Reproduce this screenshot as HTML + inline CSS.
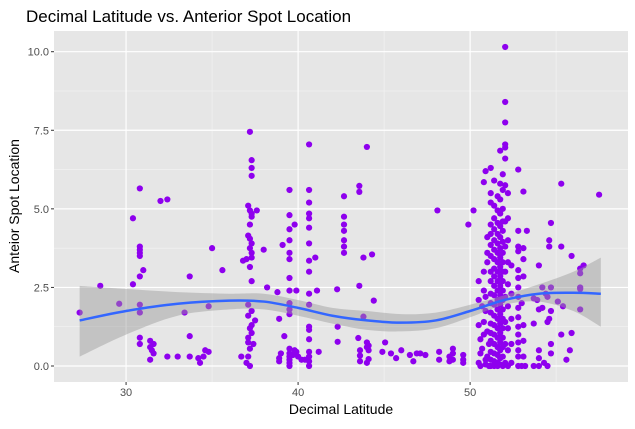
<!DOCTYPE html>
<html><head><meta charset="utf-8"><style>
body{margin:0;background:#fff;font-family:"Liberation Sans",sans-serif}
svg text{font-family:"Liberation Sans",sans-serif}
</style></head><body>
<svg id="c" width="635" height="424" xmlns="http://www.w3.org/2000/svg">
<text x="26" y="22" font-size="17" fill="#000">Decimal Latitude vs. Anterior Spot Location</text>
<rect x="54" y="31" width="574" height="351" fill="#e6e6e6"/>
<g id="grid"></g><g id="pts"></g><g id="axes"></g>
<text x="341" y="414" font-size="14" text-anchor="middle" fill="#000">Decimal Latitude</text>
<text transform="translate(19,206) rotate(-90)" font-size="14" text-anchor="middle" fill="#000">Anteior Spot Location</text>
</svg>
<script>
const xTicks=[30,40,50];
const xMinor=[35,45,55];
const yTicks=[0,2.5,5,7.5,10];
const yMinor=[1.25,3.75,6.25,8.75];
const smoothX=[27.3,30,33,36,38,40,42,44,46,48,50,52,54,56,57.6];
const smoothY=[1.45,1.75,1.98,2.08,2.05,1.85,1.6,1.45,1.38,1.45,1.75,2.1,2.3,2.33,2.3];
const bandLo=[0.3,1.0,1.6,1.8,1.8,1.6,1.35,1.15,1.1,1.2,1.55,1.95,2.05,1.75,1.25];
const bandHi=[2.55,2.45,2.35,2.3,2.3,2.1,1.85,1.75,1.65,1.7,1.95,2.25,2.6,3.0,3.45];
const points=[[27.3,1.7],[28.5,2.55],[29.6,1.98],[30.4,2.6],[30.4,4.7],[30.8,5.65],[30.8,3.8],[30.8,3.7],[30.8,3.6],[30.8,3.5],[30.8,2.85],[31.0,3.05],[30.8,1.95],[30.8,1.7],[30.8,0.9],[30.8,0.7],[31.4,0.8],[31.4,0.6],[31.5,0.5],[31.6,0.4],[31.4,0.2],[31.6,0.7],[32.0,5.25],[32.4,5.3],[32.4,0.3],[33.0,0.3],[33.4,1.7],[33.7,2.85],[33.7,0.95],[33.7,0.3],[34.2,0.25],[34.3,0.1],[34.6,0.5],[34.5,0.3],[34.8,0.45],[34.8,1.9],[35.0,3.75],[35.6,3.05],
[37.2,7.45],[37.3,6.55],[37.3,6.3],[37.3,6.05],[37.1,5.1],[37.2,4.95],[37.3,4.85],[37.3,4.75],[37.2,4.5],[37.1,4.15],[37.2,4.05],[37.3,3.9],[37.2,3.75],[37.3,3.6],[37.3,3.45],[36.8,3.35],[37.0,3.4],[37.2,3.15],[37.3,2.7],[37.1,1.95],[37.3,1.75],[37.1,1.6],[37.5,1.45],[37.3,1.3],[37.2,1.2],[37.3,1.05],[37.1,0.9],[37.1,0.75],[37.4,0.7],[37.2,0.55],[37.1,0.3],[37.0,0.1],[37.2,0.0],[36.7,0.3],[37.6,4.95],[38.0,3.7],[38.2,2.5],[38.8,2.35],
[39.5,5.6],[39.5,4.8],[39.5,4.35],[39.5,4.0],[39.5,3.6],[39.5,3.4],[39.5,2.8],[39.5,2.4],[39.5,2.0],[39.5,1.8],[39.5,1.65],[39.5,0.55],[39.5,0.4],[39.5,0.3],[39.5,0.2],[39.5,0.1],[39.5,0.0],[39.1,3.85],[39.8,4.5],[39.9,2.4],[38.9,1.5],[39.2,0.95],[39.0,0.4],[38.9,0.25],[38.9,0.15],[39.8,0.5],[40.0,0.3],[40.2,0.2],[39.7,0.35],[39.9,0.45],
[40.64,7.05],[40.64,5.6],[40.64,5.2],[40.64,4.85],[40.64,4.7],[40.64,4.4],[40.64,3.9],[40.64,3.35],[40.64,3.0],[40.64,2.3],[40.64,1.95],[40.64,1.25],[40.64,1.15],[40.64,0.85],[40.64,0.45],[40.64,0.3],[40.64,0.15],[40.64,0.0],[41.0,3.45],[41.1,2.4],[40.4,0.2],[41.2,0.45],
[42.67,5.4],[42.67,4.75],[42.67,4.5],[42.67,4.3],[42.67,4.0],[42.67,3.8],[42.67,3.6],[42.27,2.44],[42.3,1.25],[42.3,0.77],[43.56,5.73],[43.56,5.54],[43.56,2.55],[44.0,6.97],[43.8,3.45],[44.3,3.55],[44.4,2.08],[43.8,1.57],[43.5,0.89],[43.6,0.5],[43.6,0.33],[43.6,0.15],[44.0,0.75],[44.0,0.6],[44.1,0.5],[44.1,0.22],[44.0,0.1],[44.1,0.65],[45.06,0.75],[44.9,0.45],[45.4,0.4],[45.7,0.25],[46.0,0.5],[46.5,0.35],[46.7,0.15],[46.9,0.4],[47.1,0.4],[47.4,0.35],[48.1,4.95],[48.2,0.45],[48.2,0.2],[48.8,0.3],[48.8,0.15],[49.0,0.4],[49.0,0.55],[49.0,0.2],[49.6,0.35],[49.6,0.2],[49.6,0.1],[49.9,4.5],[50.2,4.95],
[50.5,2.1],[50.5,2.7],[50.5,1.3],[50.6,0.85],[50.6,0.4],[50.5,0.1],[50.6,0.0],[50.8,5.85],[50.8,3.0],[50.8,2.4],[50.7,1.9],[50.9,1.75],[50.8,1.4],[50.8,1.0],[50.7,0.55],[50.9,0.2],[50.9,0.05],[50.9,6.2],[51.0,4.1],[51.0,3.6],[51.0,3.3],[50.9,2.2],[51.0,1.1],[51.1,0.7],[51.0,0.3],[51.1,0.0],
[51.2,6.3],[51.2,5.5],[51.2,5.2],[51.2,4.5],[51.2,4.2],[51.2,3.85],[51.2,3.5],[51.2,3.0],[51.2,2.7],[51.2,2.3],[51.2,2.0],[51.2,1.7],[51.2,1.35],[51.2,1.05],[51.2,0.8],[51.2,0.45],[51.2,0.2],[51.2,0.0],
[51.4,5.9],[51.4,5.1],[51.4,4.7],[51.4,4.35],[51.4,4.0],[51.4,3.7],[51.4,3.4],[51.4,3.1],[51.4,2.85],[51.4,2.55],[51.4,2.25],[51.4,1.95],[51.4,1.6],[51.4,1.3],[51.4,1.0],[51.4,0.7],[51.4,0.4],[51.4,0.15],[51.4,0.0],
[51.6,5.4],[51.6,4.95],[51.6,4.55],[51.6,4.2],[51.6,3.9],[51.6,3.6],[51.6,3.3],[51.6,3.0],[51.6,2.7],[51.6,2.4],[51.6,2.1],[51.6,1.8],[51.6,1.5],[51.6,1.2],[51.6,0.9],[51.6,0.6],[51.6,0.35],[51.6,0.1],[51.6,0.0],
[51.75,6.85],[51.75,5.8],[51.75,5.3],[51.75,4.85],[51.75,4.45],[51.75,4.1],[51.75,3.75],[51.75,3.45],[51.75,3.15],[51.75,2.85],[51.75,2.55],[51.75,2.25],[51.75,1.95],[51.75,1.65],[51.75,1.35],[51.75,1.05],[51.75,0.75],[51.75,0.5],[51.75,0.25],[51.75,0.05],
[51.9,6.1],[51.9,5.6],[51.9,5.0],[51.9,4.6],[51.9,4.3],[51.9,3.95],[51.9,3.6],[51.9,3.3],[51.9,3.0],[51.9,2.7],[51.9,2.4],[51.9,2.1],[51.9,1.8],[51.9,1.5],[51.9,1.2],[51.9,0.9],[51.9,0.6],[51.9,0.3],[51.9,0.0],
[52.04,10.15],[52.04,8.4],[52.04,7.75],[52.04,7.05],[52.04,6.95],[52.04,6.6],[52.04,5.75],[52.04,4.6],[52.04,3.8],[52.04,3.0],[52.04,2.2],[52.04,1.4],[52.04,0.7],[52.04,0.1],
[52.2,5.5],[52.2,4.7],[52.2,4.0],[52.2,3.3],[52.2,2.6],[52.2,1.9],[52.2,1.2],[52.2,0.5],[52.2,0.0],[52.4,3.2],[52.4,2.3],[52.4,1.5],[52.4,0.7],[52.4,0.1],
[52.8,6.25],[52.8,4.3],[52.8,3.8],[52.8,3.65],[52.8,3.05],[52.8,2.8],[52.8,2.5],[52.8,2.2],[52.8,1.85],[52.8,1.55],[52.8,1.25],[52.8,1.0],[52.8,0.75],[52.8,0.5],[52.8,0.3],[52.8,0.0],[53.0,2.0],[53.0,0.0],[53.1,5.55],[53.1,3.75],[53.1,3.4],[53.1,2.85],[53.1,1.3],[53.1,0.8],[53.1,0.3],[53.2,0.0],[53.3,4.3],
[53.7,2.15],[53.7,1.35],[53.7,0.0],[54.0,3.2],[53.9,2.1],[54.0,1.8],[54.0,0.5],[54.0,0.25],[54.0,0.0],[54.2,2.5],[54.2,1.85],[54.4,2.3],[54.5,2.2],[54.5,1.4],[54.6,1.5],[54.6,4.0],[54.6,3.8],[54.7,4.55],[54.7,2.5],[54.7,1.75],[54.7,0.7],[54.7,0.4],[54.3,0.1],[54.5,0.0],[55.1,2.05],[55.4,1.9],[55.3,5.8],[55.3,3.8],[55.3,1.0],[55.6,0.2],[55.9,3.5],[55.9,1.05],[55.8,0.5],[56.4,3.1],[56.4,2.95],[56.4,2.5],[56.4,2.45],[56.4,1.8],[56.6,3.2],[57.5,5.45]];
const NS='http://www.w3.org/2000/svg';
const X0=25.81,X1=59.18;
const sx=v=>54+(v-X0)/(X1-X0)*574;
const sy=v=>366-v*31.43;
function mk(t,a,p){const e=document.createElementNS(NS,t);for(const k in a)e.setAttribute(k,a[k]);p.appendChild(e);return e;}
function spline(pts){let d='';for(let i=0;i<pts.length-1;i++){const p0=pts[Math.max(i-1,0)],p1=pts[i],p2=pts[i+1],p3=pts[Math.min(i+2,pts.length-1)];
const c1=[p1[0]+(p2[0]-p0[0])/6,p1[1]+(p2[1]-p0[1])/6],c2=[p2[0]-(p3[0]-p1[0])/6,p2[1]-(p3[1]-p1[1])/6];
d+='C'+c1.join(',')+' '+c2.join(',')+' '+p2.join(',');}return d;}
const grid=document.getElementById('grid'),axes=document.getElementById('axes');
xMinor.forEach(v=>{const l=mk('line',{x1:sx(v),x2:sx(v),y1:31,y2:382,stroke:'#f4f4f4','stroke-width':0.6},grid);

});
yMinor.forEach(v=>{const l=mk('line',{x1:54,x2:628,y1:sy(v),y2:sy(v),stroke:'#f4f4f4','stroke-width':0.6},grid);

});
xTicks.forEach(v=>{const l=mk('line',{x1:sx(v),x2:sx(v),y1:31,y2:382,stroke:'#fff','stroke-width':1.2},grid);


mk('line',{x1:sx(v),x2:sx(v),y1:382,y2:385,stroke:'#333','stroke-width':1},axes);
const t=mk('text',{x:sx(v),y:396,'font-size':11,fill:'#4d4d4d','text-anchor':'middle'},axes);t.textContent=v;

});
yTicks.forEach(v=>{const l=mk('line',{x1:54,x2:628,y1:sy(v),y2:sy(v),stroke:'#fff','stroke-width':1.2},grid);


mk('line',{x1:51,x2:54,y1:sy(v),y2:sy(v),stroke:'#333','stroke-width':1},axes);
const t=mk('text',{x:49,y:sy(v)+4,'font-size':11,fill:'#4d4d4d','text-anchor':'end'},axes);t.textContent=v.toFixed(1);

});
const pg=document.getElementById('pts');
points.forEach(p=>{const c=mk('circle',{cx:sx(p[0]),cy:sy(p[1]),r:3.1,fill:'#8e00ee'},pg);

});
const hi=smoothX.map((x,i)=>[sx(x),sy(bandHi[i])]);
const lo=smoothX.map((x,i)=>[sx(x),sy(bandLo[i])]).reverse();
let d='M'+hi[0].join(',')+spline(hi)+'L'+lo[0].join(',')+spline(lo)+'Z';
const rb=mk('path',{d:d,fill:'#999','fill-opacity':0.45},pg.parentNode);


const mid=smoothX.map((x,i)=>[sx(x),sy(smoothY[i])]);
const ln=mk('path',{d:'M'+mid[0].join(',')+spline(mid),fill:'none',stroke:'#3366ff','stroke-width':2.5,'stroke-linejoin':'round'},pg.parentNode);


</script>
</body></html>
